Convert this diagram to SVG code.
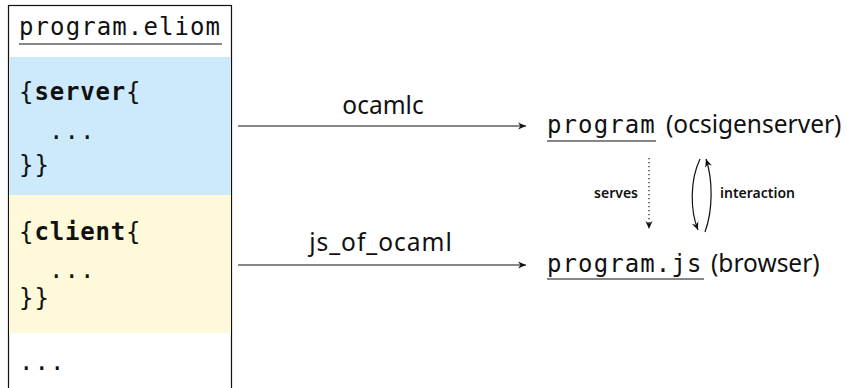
<svg xmlns="http://www.w3.org/2000/svg" width="847" height="388" viewBox="0 0 847 388">
<style>
.mono{font-family:"DejaVu Sans Mono",monospace;font-size:24px;letter-spacing:1.1px;fill:#111}
.b{font-weight:bold;letter-spacing:0.8px}
.sans{font-family:"Noto Sans","Open Sans",sans-serif;font-size:24.5px;fill:#111}
.small{font-family:"Noto Sans","Open Sans",sans-serif;font-size:14px;font-weight:600;fill:#111}
.line{stroke:#111;stroke-width:1.2;fill:none}
</style>
<defs>
<marker id="ah" markerWidth="10" markerHeight="8" refX="8" refY="4" orient="auto" markerUnits="userSpaceOnUse">
<path d="M0,0.5 L8,4 L0,7.5 L2.5,4 Z" fill="#111"/>
</marker>
</defs>
<g id="file">
<rect x="8.5" y="5.5" width="223" height="390" fill="#fff" stroke="#111" stroke-width="1.2"/>
<rect x="9" y="57" width="222" height="138" fill="#cdeafc"/>
<rect x="9" y="195" width="222" height="138" fill="#fdf9d9"/>
<text class="mono" x="19" y="35">program.eliom</text>
<line x1="19" y1="44" x2="222" y2="44" stroke="#111" stroke-width="1.2"/>
<text class="mono" x="19" y="100">{<tspan class="b">server</tspan>{</text>
<text class="mono" x="49" y="139">...</text>
<text class="mono" x="19" y="173">}}</text>
<text class="mono" x="19" y="240">{<tspan class="b">client</tspan>{</text>
<text class="mono" x="49" y="278">...</text>
<text class="mono" x="19" y="306">}}</text>
<text class="mono" x="19" y="370">...</text>
</g>
<g id="connectors">
<line class="line" x1="238" y1="126" x2="526" y2="126" marker-end="url(#ah)"/>
<text class="sans" x="383" y="114" text-anchor="middle">ocamlc</text>
<line class="line" x1="238" y1="265" x2="526" y2="265" marker-end="url(#ah)"/>
<text class="sans" x="381" y="251" text-anchor="middle" letter-spacing="1">js_of_ocaml</text>
<line class="line" x1="649" y1="158" x2="649" y2="229" stroke-dasharray="1.2,2.8" marker-end="url(#ah)"/>
<text class="small" x="638" y="198" text-anchor="end">serves</text>
<path class="line" d="M700,159 C690,180 690,210 698,230" marker-end="url(#ah)"/>
<path class="line" d="M705,232 C713,210 713,180 706,159" marker-end="url(#ah)"/>
<text class="small" x="720" y="198">interaction</text>
</g>
<g id="server">
<text class="mono" x="547" y="133">program</text>
<line x1="547" y1="141" x2="656" y2="141" stroke="#111" stroke-width="1.2"/>
<text class="sans" x="666" y="133">(ocsigenserver)</text>
</g>
<g id="browser">
<text class="mono" x="547" y="272">program.js</text>
<line x1="547" y1="279" x2="704" y2="279" stroke="#111" stroke-width="1.2"/>
<text class="sans" x="711" y="272">(browser)</text>
</g>
</svg>
